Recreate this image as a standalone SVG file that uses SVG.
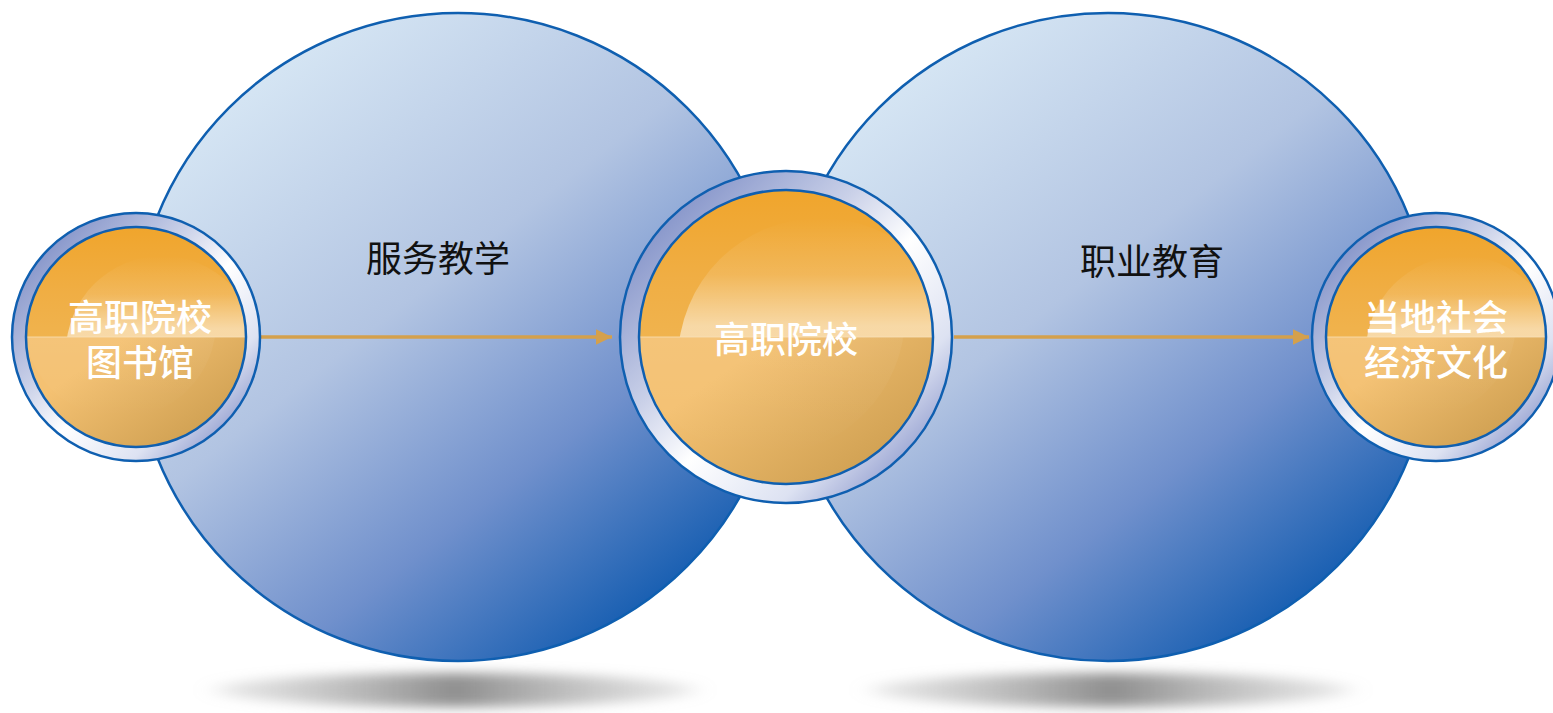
<svg xmlns="http://www.w3.org/2000/svg" width="1553" height="713" viewBox="0 0 1553 713">
<defs>
<linearGradient id="gBig" x1="0.2" y1="0.08" x2="0.85" y2="0.92">
<stop offset="0" stop-color="#D6E6F4"/>
<stop offset="0.4" stop-color="#B2C4E2"/>
<stop offset="0.7" stop-color="#7090CC"/>
<stop offset="1" stop-color="#0C58AE"/>
</linearGradient>
<linearGradient id="gRing" x1="0.1" y1="0.1" x2="0.9" y2="0.9">
<stop offset="0" stop-color="#7E8EC6"/>
<stop offset="0.35" stop-color="#C9D0E8"/>
<stop offset="0.55" stop-color="#FFFFFF"/>
<stop offset="0.8" stop-color="#DDE2F2"/>
<stop offset="1" stop-color="#8C98CC"/>
</linearGradient>
<linearGradient id="gTop" x1="0" y1="0" x2="0" y2="1">
<stop offset="0" stop-color="#F0A52C"/>
<stop offset="0.6" stop-color="#F0AE44"/>
<stop offset="1" stop-color="#F0B34E"/>
</linearGradient>
<linearGradient id="gBot" x1="0.1" y1="0.5" x2="0.8" y2="1">
<stop offset="0" stop-color="#F4C172"/>
<stop offset="1" stop-color="#CD9E50"/>
</linearGradient>
<linearGradient id="gHi" x1="0" y1="0" x2="0" y2="1">
<stop offset="0" stop-color="#FFFFFF" stop-opacity="0.0"/>
<stop offset="0.2" stop-color="#FFFFFF" stop-opacity="0.12"/>
<stop offset="0.38" stop-color="#FFFFFF" stop-opacity="0.5"/>
<stop offset="1" stop-color="#FFFFFF" stop-opacity="0.55"/>
</linearGradient>
<linearGradient id="gHiB" x1="0" y1="0" x2="0" y2="1">
<stop offset="0" stop-color="#FFFFFF" stop-opacity="0.12"/>
<stop offset="1" stop-color="#FFFFFF" stop-opacity="0"/>
</linearGradient>
<linearGradient id="gShadow" x1="0" y1="0" x2="1" y2="0">
<stop offset="0" stop-color="#AAA" stop-opacity="0.25"/>
<stop offset="0.5" stop-color="#888" stop-opacity="0.95"/>
<stop offset="1" stop-color="#AAA" stop-opacity="0.25"/>
</linearGradient>
<filter id="blur" x="-20%" y="-100%" width="140%" height="300%">
<feGaussianBlur stdDeviation="12 6"/>
</filter>
<marker id="arr" markerWidth="5" markerHeight="5" refX="4.6" refY="2.2" orient="auto" markerUnits="strokeWidth">
<path d="M0,0 L4.6,2.2 L0,4.4 z" fill="#D4A04C"/>
</marker>
<clipPath id="cL"><circle cx="136" cy="337" r="110"/></clipPath>
<clipPath id="cM"><circle cx="786" cy="337" r="147"/></clipPath>
<clipPath id="cR"><circle cx="1436" cy="337" r="110"/></clipPath>
<clipPath id="tL"><rect x="20" y="220" width="240" height="117"/></clipPath>
<clipPath id="tM"><rect x="630" y="180" width="320" height="157"/></clipPath>
<clipPath id="tR"><rect x="1320" y="220" width="240" height="117"/></clipPath>
<clipPath id="bL"><rect x="20" y="337" width="240" height="120"/></clipPath>
<clipPath id="bM"><rect x="630" y="337" width="320" height="160"/></clipPath>
<clipPath id="bR"><rect x="1320" y="337" width="240" height="120"/></clipPath>
</defs>
<style>
.big{fill:url(#gBig);stroke:#0F5FB0;stroke-width:2.5}
.ring{fill:url(#gRing);stroke:#0F5FB0;stroke-width:2.5}
.inner{fill:none;stroke:#0F5FB0;stroke-width:2.5}
.top{fill:url(#gTop)}
.bot{fill:url(#gBot)}
.hi{fill:url(#gHi)}
.hib{fill:url(#gHiB)}
.sep{stroke:#F8E0B8;stroke-width:1.2;opacity:0.8}
.lbl{font-family:"Noto Sans CJK SC","Noto Sans",sans-serif;font-size:36px;text-anchor:middle;dominant-baseline:central}
.w{fill:#FFFFFF;font-weight:500}
.k{fill:#111111}
.conn{stroke:#D4A04C;stroke-width:3.5;fill:none}
</style>
<g id="shadows" filter="url(#blur)">
<ellipse cx="455" cy="690" rx="240" ry="17" fill="url(#gShadow)"/>
<ellipse cx="1111" cy="690" rx="240" ry="17" fill="url(#gShadow)"/>
</g>
<g id="big-left"><circle class="big" cx="458" cy="337" r="324"/></g>
<g id="big-right"><circle class="big" cx="1108" cy="337" r="324"/></g>
<g id="label-service"><text class="lbl k" x="438" y="256">服务教学</text></g>
<g id="label-vocational"><text class="lbl k" x="1152" y="259">职业教育</text></g>
<g id="connectors">
<line class="conn" x1="258" y1="337" x2="612" y2="337" marker-end="url(#arr)"/>
<line class="conn" x1="954" y1="337" x2="1309" y2="337" marker-end="url(#arr)"/>
</g>
<g id="node-library">
<circle class="ring" cx="136" cy="337" r="124"/>
<g clip-path="url(#cL)">
<rect class="top" x="26" y="227" width="220" height="110"/>
<rect class="bot" x="26" y="337" width="220" height="110"/>
<g clip-path="url(#tL)"><circle class="hi" cx="162" cy="352" r="96"/></g>
<g clip-path="url(#bL)"><circle class="hib" cx="120" cy="322" r="96"/></g>
</g>
<line class="sep" x1="26" y1="337" x2="246" y2="337"/>
<circle class="inner" cx="136" cy="337" r="110"/>
<text class="lbl w"><tspan x="140" y="315">高职院校</tspan><tspan x="140" y="360">图书馆</tspan></text>
</g>
<g id="node-college">
<circle class="ring" cx="786" cy="337" r="166"/>
<g clip-path="url(#cM)">
<rect class="top" x="639" y="190" width="294" height="147"/>
<rect class="bot" x="639" y="337" width="294" height="147"/>
<g clip-path="url(#tM)"><circle class="hi" cx="820" cy="360" r="142"/></g>
<g clip-path="url(#bM)"><circle class="hib" cx="765" cy="315" r="140"/></g>
</g>
<line class="sep" x1="639" y1="337" x2="933" y2="337"/>
<circle class="inner" cx="786" cy="337" r="147"/>
<text class="lbl w" x="786" y="337">高职院校</text>
</g>
<g id="node-society">
<circle class="ring" cx="1436" cy="337" r="124"/>
<g clip-path="url(#cR)">
<rect class="top" x="1326" y="227" width="220" height="110"/>
<rect class="bot" x="1326" y="337" width="220" height="110"/>
<g clip-path="url(#tR)"><circle class="hi" cx="1462" cy="352" r="96"/></g>
<g clip-path="url(#bR)"><circle class="hib" cx="1420" cy="322" r="96"/></g>
</g>
<line class="sep" x1="1326" y1="337" x2="1546" y2="337"/>
<circle class="inner" cx="1436" cy="337" r="110"/>
<text class="lbl w"><tspan x="1436" y="315">当地社会</tspan><tspan x="1436" y="360">经济文化</tspan></text>
</g>
</svg>
